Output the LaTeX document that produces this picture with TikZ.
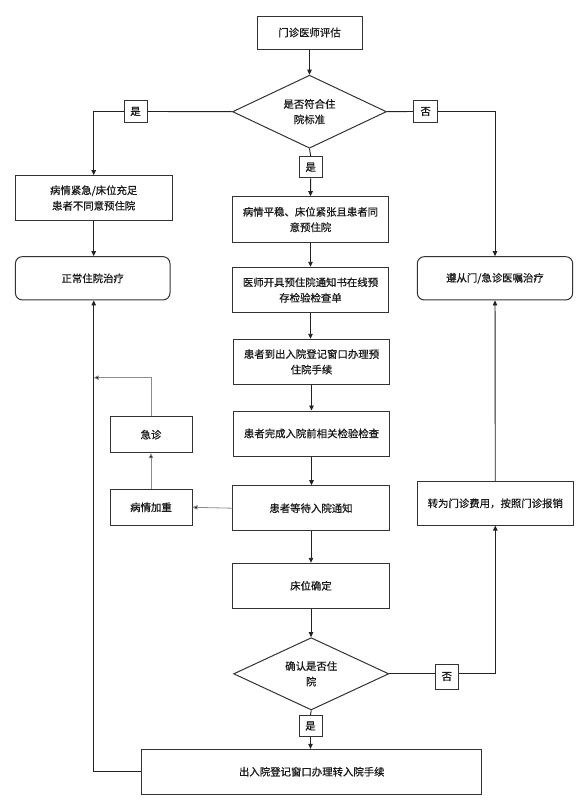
\documentclass[tikz,border=0pt]{standalone}
\usepackage{fontspec}
\setmainfont{Noto Sans CJK SC}[BoldFont={*},BoldFeatures={FakeBold=0.6}]
\usetikzlibrary{shapes.geometric,arrows.meta}
\definecolor{ln}{HTML}{222222}
\definecolor{bd}{HTML}{333333}
\definecolor{gl}{HTML}{8C8C8C}
\definecolor{tx}{HTML}{1A1A1A}
\tikzset{
  base/.style={draw=bd,line width=1pt,inner sep=0pt,align=center,text=tx,
    font=\fontsize{10.4}{15.5}\selectfont\bfseries},
  stepbox/.style={base,rectangle},
  roundbox/.style={base,rectangle,rounded corners=7pt},
  decide/.style={base,diamond,shape aspect=2.1},
  tag/.style={base,rectangle,minimum width=23pt},
  conn/.style={draw=ln,line width=0.9pt,-{Triangle[length=5pt,width=4.5pt]}},
  plain/.style={draw=ln,line width=0.9pt},
  gconn/.style={draw=gl,line width=0.8pt,-{Triangle[length=5pt,width=4.5pt,fill=black]}},
}
\begin{document}
\begin{tikzpicture}[x=1pt,y=-1pt]
\useasboundingbox (0,0) rectangle (585,803);
\fill[white] (0,0) rectangle (585,803);
% nodes
\node[stepbox,minimum width=105pt,minimum height=33pt] (start) at (309.5,32.5) {门诊医师评估};
\node[decide,minimum width=154pt,minimum height=73pt] (d1) at (309.5,111.7) {是否符合住\\院标准};
\node[tag,minimum height=22pt] (yesL) at (135.5,111.5) {是};
\node[tag,minimum width=24pt,minimum height=22pt] (noR) at (425.6,111.5) {否};
\node[tag,minimum height=21pt] (yesC) at (310.7,167.3) {是};
\node[stepbox,minimum width=156.6pt,minimum height=44.6pt] (b1) at (93.7,198) {病情紧急/床位充足\\患者不同意预住院};
\node[roundbox,minimum width=154.6pt,minimum height=43.3pt] (lr) at (92.7,278.3) {正常住院治疗};
\node[roundbox,minimum width=155.4pt,minimum height=43.3pt] (rr) at (495,278.3) {遵从门/急诊医嘱治疗};
\node[stepbox,minimum width=156pt,minimum height=45.6pt] (b2) at (310.5,219.5) {病情平稳、床位紧张且患者同\\意预住院};
\node[stepbox,minimum width=156pt,minimum height=45.4pt] (b3) at (310.5,290) {医师开具预住院通知书在线预\\存检验检查单};
\node[stepbox,minimum width=156.4pt,minimum height=45pt] (b4) at (311.5,361.8) {患者到出入院登记窗口办理预\\住院手续};
\node[stepbox,minimum width=156.4pt,minimum height=45pt] (b5) at (311.5,433.5) {患者完成入院前相关检验检查};
\node[stepbox,minimum width=156.2pt,minimum height=45pt] (b6) at (311,508.2) {患者等待入院通知};
\node[stepbox,minimum width=156.2pt,minimum height=45pt] (b7) at (311,585.8) {床位确定};
\node[decide,minimum width=155.2pt,minimum height=72.3pt] (d2) at (311.2,673.8) {确认是否住\\院};
\node[tag,minimum width=23.6pt,minimum height=25pt] (noB) at (446.8,676.5) {否};
\node[tag,minimum height=21.4pt] (yesB) at (310.5,726) {是};
\node[stepbox,minimum width=340.3pt,minimum height=44.7pt] (fin) at (311.8,771.7) {出入院登记窗口办理转入院手续};
\node[stepbox,minimum width=82pt,minimum height=36pt] (jz) at (151,434.7) {急诊};
\node[stepbox,minimum width=82pt,minimum height=36pt] (jzh) at (151,507.3) {病情加重};
\node[stepbox,minimum width=156pt,minimum height=43.3pt] (zm) at (495.3,503.4) {转为门诊费用，按照门诊报销};
\coordinate (jzend) at (93.7,377.7);
% connectors
\draw[conn] (start) -- (d1);
\draw[plain] (d1.west) -- (yesL.east);
\draw[conn] (yesL.west) -| (b1.north);
\draw[plain] (d1.east) -- (noR.west);
\draw[conn] (noR.east) -| (rr.north);
\draw[plain] (d1.south) -- (yesC.north);
\draw[conn] (yesC.south) -- (b2.north);
\draw[conn] (b1.south) -- (b1.south |- lr.north);
\draw[conn] (b2) -- (b3);
\draw[conn] (b3.south) -- (b3.south |- b4.north);
\draw[conn] (b4) -- (b5);
\draw[conn] (b5.south) -- (b5.south |- b6.north);
\draw[conn] (b6) -- (b7);
\draw[conn] (b7.south) -- (b7.south |- d2.north);
\draw[plain] (d2.south) -- (yesB.north);
\draw[conn] (yesB.south) -- (yesB.south |- fin.north);
\draw[plain] (d2.east) -- (d2.east -| noB.west);
\draw[conn] (noB.east |- d2.east) -| (zm.south);
\draw[conn] (zm) -- (rr);
\draw[conn] (fin.west) -| (b1.south |- lr.south);
\draw[gconn] (b6.west) -- (jzh.east);
\draw[gconn] (jzh) -- (jz);
\draw[gconn] (jz.north) |- (jzend);
\end{tikzpicture}
\end{document}
